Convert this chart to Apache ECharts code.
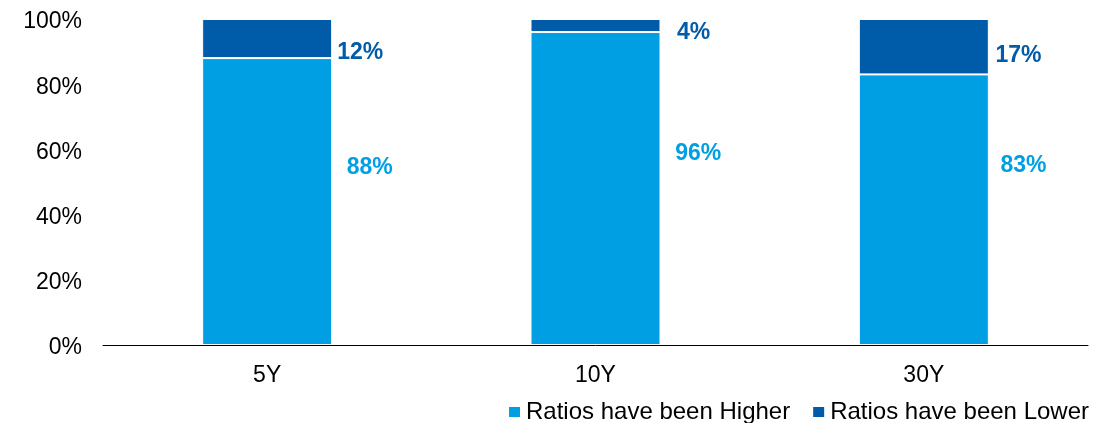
<!DOCTYPE html>
<html>
<head>
<meta charset="utf-8">
<script src="https://cdn.jsdelivr.net/npm/echarts@6/dist/echarts.min.js"></script>
<style>
html,body{margin:0;padding:0;background:#fff;}
#chart{width:1117px;height:423px;}
</style>
</head>
<body>
<div id="chart"></div>
<script>
var categories = ['5Y', '10Y', '30Y'];
var seriesNames = ['Ratios have been Higher', 'Ratios have been Lower'];
var higherValues = [88, 96, 83];
var lowerValues = [12, 4, 17];
var yTicks = [0, 20, 40, 60, 80, 100];

// label placement tweaks (style only), [dx, dy] from the bar's right-middle
var higherLabelOffsets = [[14.5, -34], [14.7, -35], [11.7, -44]];
var lowerLabelOffsets = [[5, 14], [16.4, 7], [6.7, 9]];

var LIGHT = '#009FE3';
var DARK = '#005CA9';
var FONT = '"Liberation Sans", Arial, sans-serif';

function buildData(values, offsets) {
  return values.map(function (v, i) {
    return { value: v, label: { offset: offsets[i] } };
  });
}

var chart = echarts.init(document.getElementById('chart'), null, { renderer: 'canvas' });
chart.setOption({
  animation: false,
  backgroundColor: '#ffffff',
  textStyle: { fontFamily: FONT },
  grid: { left: 103, right: 29, top: 19, bottom: 78, containLabel: false },
  legend: {
    data: seriesNames,
    right: 23,
    top: 395,
    itemWidth: 13,
    itemHeight: 12,
    itemGap: 21,
    icon: 'rect',
    textStyle: { fontSize: 24, color: '#000', fontFamily: FONT }
  },
  xAxis: {
    type: 'category',
    data: categories,
    axisLine: { show: true, lineStyle: { color: '#000', width: 1 } },
    axisTick: { show: false },
    axisLabel: { fontSize: 23, color: '#000', margin: 19, fontFamily: FONT }
  },
  yAxis: {
    type: 'value',
    min: yTicks[0],
    max: yTicks[yTicks.length - 1],
    interval: yTicks[1] - yTicks[0],
    axisLine: { show: false },
    axisTick: { show: false },
    splitLine: { show: false },
    axisLabel: {
      color: '#000', margin: 21,
      formatter: '{v|{value}%}',
      rich: { v: { fontSize: 23, color: '#000', fontFamily: FONT, padding: [6, 0, 0, 0] } }
    }
  },
  series: [
    {
      name: seriesNames[0],
      type: 'bar',
      stack: 'total',
      barWidth: 130,
      itemStyle: { color: LIGHT, borderColor: '#ffffff', borderWidth: 1 },
      label: {
        show: true, position: 'right', distance: 0,
        color: LIGHT, fontWeight: 'bold', fontSize: 23, fontFamily: FONT,
        formatter: '{c}%'
      },
      data: buildData(higherValues, higherLabelOffsets)
    },
    {
      name: seriesNames[1],
      type: 'bar',
      stack: 'total',
      barWidth: 130,
      itemStyle: { color: DARK, borderColor: '#ffffff', borderWidth: 1 },
      label: {
        show: true, position: 'right', distance: 0,
        color: DARK, fontWeight: 'bold', fontSize: 23, fontFamily: FONT,
        formatter: '{c}%'
      },
      data: buildData(lowerValues, lowerLabelOffsets)
    }
  ]
});
</script>
</body>
</html>
